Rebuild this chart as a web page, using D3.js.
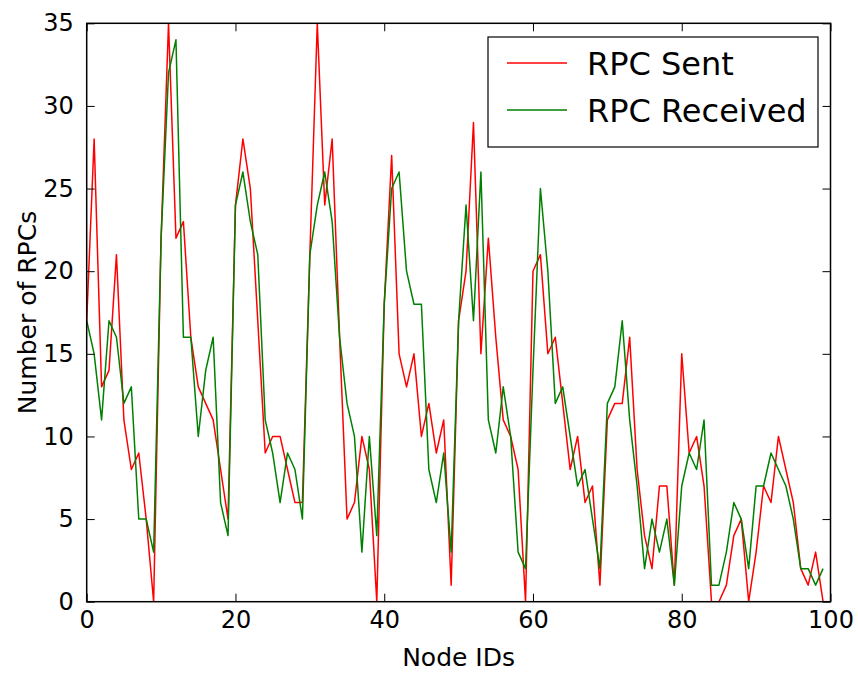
<!DOCTYPE html>
<html>
<head>
<meta charset="utf-8">
<script src="https://cdn.jsdelivr.net/npm/d3@7"></script>
<style>
html,body{margin:0;padding:0;background:#fff;}
svg{display:block;font-family:"DejaVu Sans",sans-serif;}
</style>
</head>
<body>
<svg id="chart" width="858" height="675"></svg>
<script>
const nodeIds = d3.range(0, 100);
const rpcSent = [17,28,13,14,21,11,8,9,5,0,
  22,35,22,23,16,13,12,11,8,5,
  24,28,25,17,9,10,10,8,6,6,
  21,35,24,28,16,5,6,10,8,0,
  18,27,15,13,15,10,12,9,11,1,
  17,20,29,15,22,16,11,10,8,0,
  20,21,15,16,12,8,10,6,7,1,
  11,12,12,16,8,4,2,7,7,1,
  15,9,10,7,0,0,1,4,5,0,
  3,7,6,10,8,6,2,1,3,0];
const rpcReceived = [17,15,11,17,16,12,13,5,5,3,
  22,32,34,16,16,10,14,16,6,4,
  24,26,23,21,11,9,6,9,8,5,
  21,24,26,23,16,12,10,3,10,4,
  18,25,26,20,18,18,8,6,9,3,
  17,24,17,26,11,9,13,10,3,2,
  14,25,20,12,13,10,7,8,5,2,
  12,13,17,11,7,2,5,3,5,1,
  7,9,8,11,1,1,3,6,5,2,
  7,7,9,8,7,5,2,2,1,2];
const xTicks = [0,20,40,60,80,100];
const yTicks = [0,5,10,15,20,25,30,35];
const seriesNames = ["RPC Sent","RPC Received"];
const seriesColors = ["#ff0000","#008000"];

const svg = d3.select("#chart");
const L = 86.7, R = 830.5, T = 23.3, B = 601.7;
const x = d3.scaleLinear().domain([0,100]).range([L,R]);
const y = d3.scaleLinear().domain([0,35]).range([B,T]);

const series = [rpcSent, rpcReceived];
const line = d3.line().x((d,i)=>x(nodeIds[i])).y(d=>y(d));

svg.append("clipPath").attr("id","clip").append("rect")
  .attr("x",L).attr("y",T).attr("width",R-L).attr("height",B-T);

const plot = svg.append("g").attr("clip-path","url(#clip)");
series.forEach((s,k)=>{
  plot.append("path").datum(s).attr("d",line)
    .attr("fill","none").attr("stroke",seriesColors[k])
    .attr("stroke-width",1.5).attr("stroke-linejoin","round");
});

// axes
const tickLen = 8;
const fs = 24;
const axB = d3.axisBottom(x).tickValues(xTicks).tickSizeInner(-tickLen).tickSizeOuter(0).tickPadding(9);
const axT = d3.axisTop(x).tickValues(xTicks).tickSizeInner(-tickLen).tickSizeOuter(0).tickFormat("");
const axL = d3.axisLeft(y).tickValues(yTicks).tickSizeInner(-tickLen).tickSizeOuter(0).tickPadding(13);
const axR = d3.axisRight(y).tickValues(yTicks).tickSizeInner(-tickLen).tickSizeOuter(0).tickFormat("");

function style(g){
  g.select(".domain").remove();
  g.selectAll(".tick line").attr("stroke","#000").attr("stroke-width",1);
  g.selectAll(".tick text").attr("fill","#000").attr("font-size",fs).attr("font-family","DejaVu Sans");
}
svg.append("g").attr("transform",`translate(0,${B})`).call(axB).call(style);
svg.append("g").attr("transform",`translate(0,${T})`).call(axT).call(style);
svg.append("g").attr("transform",`translate(${L},0)`).call(axL).call(style);
svg.append("g").attr("transform",`translate(${R},0)`).call(axR).call(style);

svg.append("rect").attr("x",L).attr("y",T).attr("width",R-L).attr("height",B-T)
  .attr("fill","none").attr("stroke","#000").attr("stroke-width",1.5);

// axis labels
svg.append("text").attr("x",(L+R)/2).attr("y",666).attr("text-anchor","middle")
  .attr("font-size",25).attr("fill","#000").text("Node IDs");
svg.append("text").attr("transform",`translate(36,${(T+B)/2}) rotate(-90)`)
  .attr("text-anchor","middle").attr("font-size",25).attr("fill","#000").text("Number of RPCs");

// legend
const lg = svg.append("g");
lg.append("rect").attr("x",488).attr("y",37).attr("width",330).attr("height",110)
  .attr("fill","#fff").attr("stroke","#000").attr("stroke-width",1.2);
seriesNames.forEach((n,k)=>{
  const yy = 63 + k*47;
  lg.append("line").attr("x1",507).attr("x2",567).attr("y1",yy).attr("y2",yy)
    .attr("stroke",seriesColors[k]).attr("stroke-width",1.5);
  lg.append("text").attr("x",587).attr("y",yy).attr("dy","0.36em")
    .attr("font-size",32).attr("fill","#000").text(n);
});
</script>
</body>
</html>
